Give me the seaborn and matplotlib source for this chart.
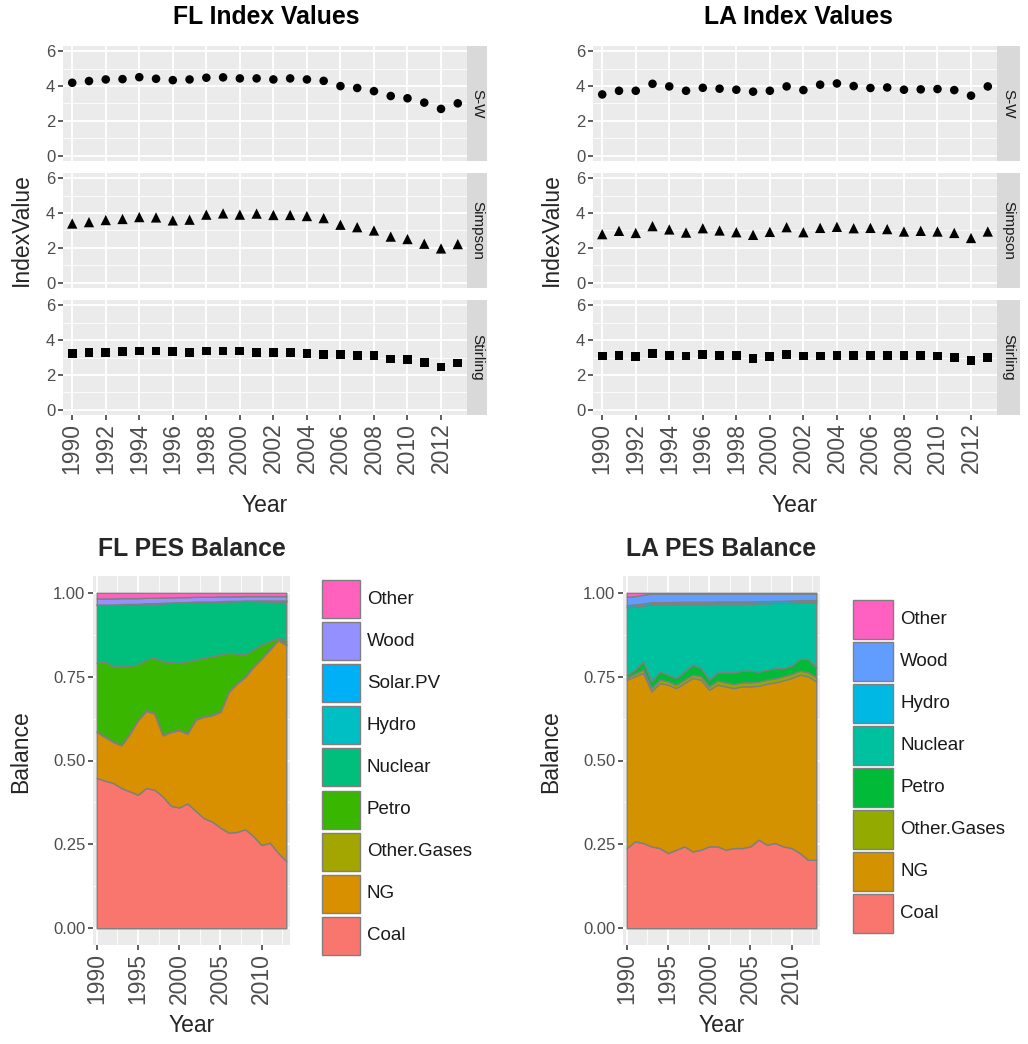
import matplotlib
matplotlib.use("Agg")
import matplotlib.pyplot as plt
import seaborn as sns
import pandas as pd
from matplotlib.patches import Rectangle

# ---------------- data ----------------
years = list(range(1990, 2014))

fl_sw = [4.19, 4.29, 4.38, 4.40, 4.51, 4.42, 4.34, 4.38, 4.48, 4.50, 4.44, 4.44,
         4.38, 4.44, 4.38, 4.30, 4.00, 3.89, 3.71, 3.43, 3.30, 3.05, 2.69, 3.01]
fl_simpson = [3.40, 3.48, 3.60, 3.66, 3.77, 3.75, 3.58, 3.62, 3.91, 3.98, 3.91, 3.97,
              3.89, 3.89, 3.83, 3.71, 3.33, 3.19, 3.00, 2.65, 2.51, 2.24, 1.97, 2.22]
fl_stirling = [3.21, 3.27, 3.29, 3.33, 3.37, 3.37, 3.33, 3.29, 3.37, 3.37, 3.37, 3.29,
               3.29, 3.27, 3.23, 3.19, 3.17, 3.13, 3.10, 2.92, 2.87, 2.73, 2.46, 2.69]

la_sw = [3.52, 3.73, 3.73, 4.13, 3.98, 3.73, 3.90, 3.85, 3.79, 3.68, 3.73, 3.98,
         3.77, 4.08, 4.15, 4.00, 3.89, 3.92, 3.79, 3.81, 3.83, 3.77, 3.45, 3.98]
la_simpson = [2.79, 2.98, 2.86, 3.25, 3.06, 2.88, 3.13, 3.00, 2.90, 2.75, 2.92, 3.19,
              2.90, 3.15, 3.21, 3.13, 3.15, 3.08, 2.94, 2.98, 2.94, 2.86, 2.57, 2.94]
la_stirling = [3.08, 3.13, 3.04, 3.23, 3.12, 3.08, 3.19, 3.13, 3.12, 2.94, 3.04, 3.17,
               3.08, 3.08, 3.12, 3.12, 3.13, 3.12, 3.12, 3.13, 3.08, 3.00, 2.85, 2.98]

index_names = ["S-W", "Simpson", "Stirling"]
year_ticks = list(range(1990, 2013, 2))

# FL primary energy supply shares (stack order bottom -> top)
fl_categories = ["Coal", "NG", "Other.Gases", "Petro", "Nuclear", "Hydro", "Solar.PV", "Wood", "Other"]
fl_coal = [0.448, 0.440, 0.433, 0.418, 0.408, 0.398, 0.418, 0.413, 0.393, 0.365, 0.360, 0.372,
           0.350, 0.328, 0.318, 0.300, 0.285, 0.287, 0.295, 0.275, 0.248, 0.255, 0.225, 0.200]
fl_ng = [0.137, 0.130, 0.122, 0.127, 0.172, 0.222, 0.230, 0.227, 0.182, 0.220, 0.230, 0.208,
         0.272, 0.302, 0.317, 0.345, 0.419, 0.442, 0.454, 0.504, 0.556, 0.576, 0.634, 0.644]
fl_other_gases = [0.002] * 24
fl_petro = [0.204, 0.224, 0.224, 0.234, 0.201, 0.164, 0.151, 0.164, 0.219, 0.206, 0.199, 0.214,
            0.177, 0.174, 0.174, 0.169, 0.115, 0.088, 0.065, 0.050, 0.040, 0.023, 0.005, 0.010]
fl_nuclear = [0.173, 0.168, 0.183, 0.184, 0.183, 0.180, 0.167, 0.162, 0.173, 0.177, 0.180, 0.175,
              0.172, 0.167, 0.162, 0.158, 0.154, 0.156, 0.160, 0.1445, 0.129, 0.1185, 0.108, 0.118]
fl_hydro = [0.001] * 24
fl_solar = [0, 0, 0, 0, 0, 0, 0, 0, 0, 0, 0, 0, 0, 0, 0, 0, 0, 0, 0, 0.0005, 0.001, 0.0015, 0.002, 0.002]
fl_wood = [0.018, 0.018, 0.018, 0.018, 0.017, 0.017, 0.016, 0.016, 0.016, 0.015, 0.015, 0.015,
           0.014, 0.014, 0.014, 0.014, 0.013, 0.013, 0.013, 0.013, 0.013, 0.013, 0.013, 0.013]
fl_other = [0.017, 0.017, 0.017, 0.016, 0.016, 0.016, 0.015, 0.015, 0.014, 0.014, 0.013, 0.013,
            0.012, 0.012, 0.012, 0.011, 0.011, 0.011, 0.010, 0.010, 0.010, 0.010, 0.010, 0.010]

# LA primary energy supply shares
la_categories = ["Coal", "NG", "Other.Gases", "Petro", "Nuclear", "Hydro", "Wood", "Other"]
la_coal = [0.239, 0.259, 0.254, 0.244, 0.239, 0.224, 0.234, 0.244, 0.229, 0.234, 0.244, 0.244,
           0.234, 0.239, 0.239, 0.244, 0.264, 0.249, 0.254, 0.244, 0.239, 0.224, 0.204, 0.204]
la_ng = [0.502, 0.492, 0.507, 0.462, 0.492, 0.502, 0.482, 0.487, 0.517, 0.507, 0.467, 0.482,
         0.487, 0.477, 0.482, 0.477, 0.459, 0.480, 0.479, 0.495, 0.507, 0.532, 0.547, 0.532]
la_other_gases = [0.006, 0.008, 0.010, 0.010, 0.010, 0.010, 0.010, 0.010, 0.010, 0.010, 0.010, 0.012,
                  0.012, 0.012, 0.012, 0.012, 0.012, 0.012, 0.012, 0.012, 0.012, 0.012, 0.012, 0.012]
la_petro = [0.008, 0.012, 0.025, 0.020, 0.025, 0.020, 0.020, 0.025, 0.030, 0.025, 0.020, 0.025,
            0.030, 0.035, 0.035, 0.035, 0.030, 0.030, 0.030, 0.025, 0.025, 0.035, 0.040, 0.030]
la_nuclear = [0.202, 0.188, 0.166, 0.230, 0.200, 0.210, 0.221, 0.201, 0.181, 0.191, 0.226, 0.205,
              0.205, 0.205, 0.200, 0.200, 0.204, 0.198, 0.195, 0.194, 0.188, 0.169, 0.169, 0.194]
la_hydro = [0.006] * 24
la_wood = [0.025, 0.025, 0.026, 0.026, 0.026, 0.026, 0.025, 0.025, 0.025, 0.025, 0.025, 0.024,
           0.024, 0.024, 0.024, 0.024, 0.023, 0.023, 0.022, 0.022, 0.021, 0.020, 0.020, 0.020]
la_other = [0.012, 0.010, 0.006, 0.002, 0.002, 0.002, 0.002, 0.002, 0.002, 0.002, 0.002, 0.002,
            0.002, 0.002, 0.002, 0.002, 0.002, 0.002, 0.002, 0.002, 0.002, 0.002, 0.002, 0.002]

fl_colors = ["#F8766D", "#D89000", "#A3A500", "#39B600", "#00BF7D", "#00BFC4", "#00B0F6", "#9590FF", "#FF62BC"]
la_colors = ["#F8766D", "#D39200", "#93AA00", "#00BA38", "#00C19F", "#00B9E3", "#619CFF", "#FF61C3"]

# ---------------- style ----------------
sns.set_theme(style="darkgrid")
sns.set_style({"axes.facecolor": "#EBEBEB", "grid.color": "white"})
plt.rcParams["font.family"] = ["Liberation Sans", "DejaVu Sans"]

W, H = 1028, 1044
fig = plt.figure(figsize=(W / 100, H / 100), dpi=100)
fig.patch.set_facecolor("white")


def ax_at(x0, y0, x1, y1):
    return fig.add_axes([x0 / W, 1 - y1 / H, (x1 - x0) / W, (y1 - y0) / H])


TICK_COL = "#4D4D4D"
YT_SIZE = 12
XT_SIZE = 16.5
TITLE_SIZE = 17.8
AX_SIZE = 16.5
LEG_SIZE = 13.5


def style_axis(ax):
    for s in ax.spines.values():
        s.set_visible(False)
    ax.set_axisbelow(True)
    ax.tick_params(which="major", length=3.5, width=1.1, color="#333333", labelcolor=TICK_COL,
                   bottom=True, left=True, pad=2)
    ax.tick_params(which="minor", length=0, bottom=False, left=False)
    ax.grid(which="major", color="white", lw=1.3)
    ax.grid(which="minor", color="white", lw=0.6)
    ax.set_xlabel("")
    ax.set_ylabel("")


def strip(x0, y0, x1, y1, label):
    sax = ax_at(x0, y0, x1, y1)
    sax.set_facecolor("#D9D9D9")
    sax.set_xticks([])
    sax.set_yticks([])
    sax.grid(False)
    for s in sax.spines.values():
        s.set_visible(False)
    sax.text(0.5, 0.5, label, rotation=270, ha="center", va="center", fontsize=11,
             color="#1A1A1A", transform=sax.transAxes)


markers = [("o", 38), ("^", 55), ("s", 40)]
rows = [(46, 161), (173, 288), (300, 415)]


def index_block(x0, x1, sx1, series_list, title, cx):
    for i, (vals, name) in enumerate(zip(series_list, index_names)):
        y0, y1 = rows[i]
        ax = ax_at(x0, y0, x1, y1)
        df = pd.DataFrame({"Year": years, "IndexValue": vals})
        mk, sz = markers[i]
        sns.scatterplot(data=df, x="Year", y="IndexValue", marker=mk, s=sz, color="black",
                        edgecolor="none", linewidth=0, legend=False, ax=ax)
        ax.set_xlim(1989.45, 2013.55)
        ax.set_ylim(-0.3, 6.3)
        ax.set_xticks(year_ticks)
        ax.set_yticks([0, 2, 4, 6])
        ax.set_yticks([1, 3, 5], minor=True)
        style_axis(ax)
        ax.grid(which="minor", axis="x", visible=False)
        ax.set_yticklabels(["0", "2", "4", "6"], fontsize=YT_SIZE)
        if i == 2:
            ax.set_xticklabels([str(y) for y in year_ticks], rotation=90, fontsize=XT_SIZE)
        else:
            ax.set_xticklabels([])
            ax.tick_params(axis="x", length=0)
        strip(x1, y0, sx1, y1, name)
    fig.text(cx / W, 1 - 17 / H, title, ha="center", va="center", fontsize=TITLE_SIZE,
             fontweight="bold", color="black")
    fig.text((x0 + x1) / 2 / W, 1 - 505 / H, "Year", ha="center", va="center", fontsize=AX_SIZE)
    fig.text((x0 - 42) / W, 1 - 230 / H, "IndexValue", ha="center", va="center",
             rotation=90, fontsize=AX_SIZE)


index_block(63, 467, 487, [fl_sw, fl_simpson, fl_stirling], "FL Index Values", 266)
index_block(593, 997, 1020, [la_sw, la_simpson, la_stirling], "LA Index Values", 798)


def draw_legend(cats, colors, kx, ky_center_first, pitch, kw, kh):
    items = list(zip(cats, colors))[::-1]
    for j, (name, col) in enumerate(items):
        cy = ky_center_first + j * pitch
        fig.patches.append(Rectangle((kx / W, 1 - (cy + kh / 2) / H), kw / W, kh / H,
                                     transform=fig.transFigure, facecolor=col,
                                     edgecolor="#7F7F7F", linewidth=1.0))
        fig.text((kx + kw + 7) / W, 1 - cy / H, name, ha="left", va="center",
                 fontsize=LEG_SIZE, color="#1A1A1A")


def area_block(x0, x1, cats, series, colors, title):
    ax = ax_at(x0, 576, x1, 945)
    ax.stackplot(years, *series, colors=colors, edgecolor="#7F7F7F", linewidth=1.0,
                 labels=cats)
    ax.set_xlim(1989.55, 2013.45)
    ax.set_ylim(-0.05, 1.05)
    ax.set_xticks([1990, 1995, 2000, 2005, 2010])
    ax.set_xticks([1992.5, 1997.5, 2002.5, 2007.5, 2012.5], minor=True)
    ax.set_yticks([0, 0.25, 0.5, 0.75, 1.0])
    ax.set_yticks([0.125, 0.375, 0.625, 0.875], minor=True)
    style_axis(ax)
    ax.set_yticklabels(["0.00", "0.25", "0.50", "0.75", "1.00"], fontsize=YT_SIZE)
    ax.set_xticklabels(["1990", "1995", "2000", "2005", "2010"], rotation=90, fontsize=XT_SIZE)
    fig.text((x0 + x1) / 2 / W, 1 - 549 / H, title, ha="center", va="center",
             fontsize=TITLE_SIZE, fontweight="bold")
    fig.text((x0 + x1) / 2 / W, 1 - 1025 / H, "Year", ha="center", va="center", fontsize=AX_SIZE)
    fig.text((x0 - 72) / W, 1 - 752 / H, "Balance", ha="center", va="center",
             rotation=90, fontsize=AX_SIZE)


area_block(93, 290, fl_categories,
           [fl_coal, fl_ng, fl_other_gases, fl_petro, fl_nuclear, fl_hydro, fl_solar, fl_wood, fl_other],
           fl_colors, "FL PES Balance")
draw_legend(fl_categories, fl_colors, 322, 599, 42.1, 38, 38)

area_block(623, 820, la_categories,
           [la_coal, la_ng, la_other_gases, la_petro, la_nuclear, la_hydro, la_wood, la_other],
           la_colors, "LA PES Balance")
draw_legend(la_categories, la_colors, 853, 619, 42.0, 40, 39)

fig.savefig("out.png", dpi=100, facecolor="white")
